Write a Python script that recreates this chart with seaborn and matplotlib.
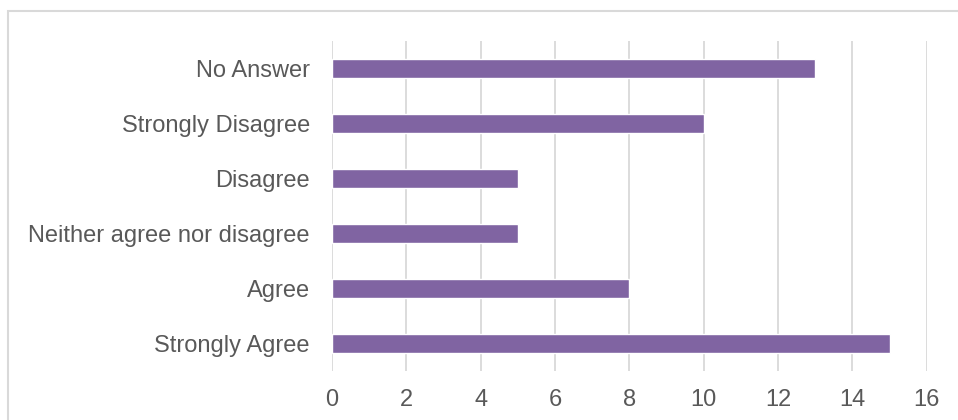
import matplotlib
matplotlib.use("Agg")
import matplotlib.pyplot as plt
import matplotlib.patches as mpatches
import seaborn as sns
import pandas as pd

# Survey responses (top to bottom as displayed)
categories = ["No Answer", "Strongly Disagree", "Disagree",
              "Neither agree nor disagree", "Agree", "Strongly Agree"]
counts = [13, 10, 5, 5, 8, 15]
x_ticks = [0, 2, 4, 6, 8, 10, 12, 14, 16]

bar_color = "#8064A2"
text_color = "#595959"
grid_color = "#D9D9D9"

sns.set_theme(style="white")
plt.rcParams["font.family"] = ["Liberation Sans", "DejaVu Sans"]

df = pd.DataFrame({"category": categories, "count": counts})

fig = plt.figure(figsize=(9.58, 4.2), dpi=100)
ax = fig.add_axes([0.3466, 0.1167, 0.6207, 0.7857])

sns.barplot(data=df, y="category", x="count", order=categories,
            color=bar_color, saturation=1, width=0.355, ax=ax)

ax.set_xlim(0, 16)
ax.set_ylim(len(categories) - 0.5, -0.5)
ax.set_xticks(x_ticks)
ax.set_xticklabels([str(t) for t in x_ticks])
ax.set_xlabel("")
ax.set_ylabel("")

ax.grid(axis="x", color=grid_color, linewidth=1.3)
ax.grid(axis="y", visible=False)
ax.set_axisbelow(True)
for s in ax.spines.values():
    s.set_visible(False)

ax.tick_params(axis="both", length=0, labelsize=17, labelcolor=text_color)
ax.tick_params(axis="x", pad=13)
ax.tick_params(axis="y", pad=16)

# outer chart frame (runs past the right and bottom edges)
frame = mpatches.Rectangle((8 / 958, -0.02), 1.05, 1 - 11 / 420 + 0.02,
                           transform=fig.transFigure, fill=False,
                           edgecolor=grid_color, linewidth=1.5, clip_on=False)
fig.patches.append(frame)

fig.savefig("out.png", dpi=100, facecolor="white")
